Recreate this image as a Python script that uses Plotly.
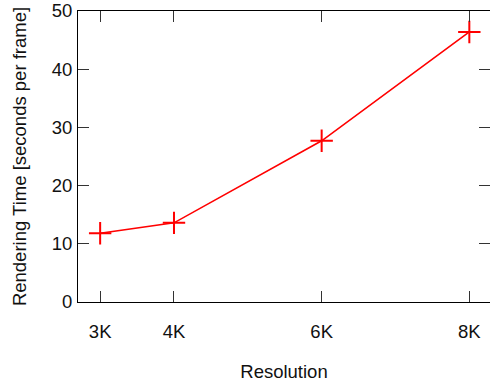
import plotly.graph_objects as go

resolution_values = [3, 4, 6, 8]
resolution_labels = ["3K", "4K", "6K", "8K"]
render_time = [11.8, 13.6, 27.7, 46.4]
y_ticks = [0, 10, 20, 30, 40, 50]

FONT = "Liberation Sans, Arial, Helvetica, sans-serif"

fig = go.Figure()
fig.add_trace(go.Scatter(
    x=resolution_values, y=render_time, mode="lines+markers",
    line=dict(color="#ff0000", width=1.6),
    marker=dict(symbol="cross-thin", size=16, line=dict(color="#ff0000", width=2)),
    showlegend=False, cliponaxis=False,
))

fig.update_layout(
    width=490, height=383,
    margin=dict(l=78, r=0, t=11, b=81),
    plot_bgcolor="white", paper_bgcolor="white",
    font=dict(family=FONT, size=18.5, color="#111111"),
    xaxis=dict(
        range=[2.7, 8.28], tickvals=resolution_values, ticktext=resolution_labels,
        ticks="inside", ticklen=11, tickwidth=1, tickcolor="#333",
        showline=True, linecolor="black", linewidth=1, mirror="ticks",
        showgrid=False, zeroline=False, ticklabelstandoff=13,
        title=dict(text="Resolution", standoff=23, font=dict(size=18.5)),
    ),
    yaxis=dict(
        range=[0, 50], tickvals=y_ticks,
        ticks="inside", ticklen=11, tickwidth=1, tickcolor="#333",
        showline=True, linecolor="black", linewidth=1, mirror="ticks",
        showgrid=False, zeroline=False, ticklabelstandoff=1,
        title=dict(text="Rendering Time [seconds per frame]", standoff=20, font=dict(size=18.5)),
    ),
)

fig.write_html(
    "out.html",
    config={"displayModeBar": False, "staticPlot": True},
    post_script="document.body.style.margin='0';document.body.style.overflow='hidden';",
)
